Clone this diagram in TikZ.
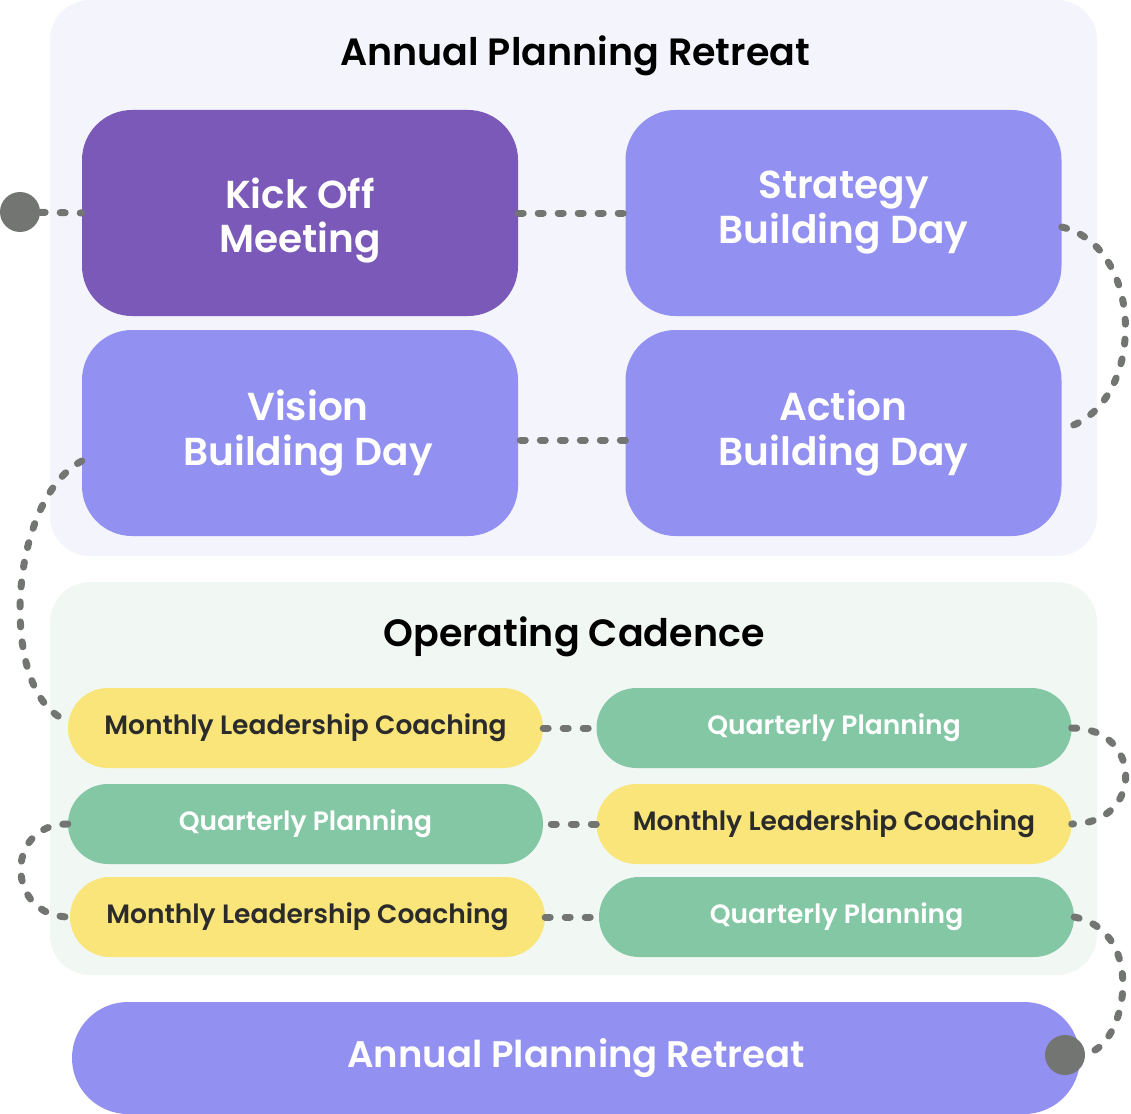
\documentclass[tikz,border=0pt]{standalone}
\usepackage{fontspec}
\setmainfont{Poppins}[BoldFont={Poppins SemiBold}]
\usepackage{xcolor}
\definecolor{kickpurple}{HTML}{7B59B9}
\definecolor{daylilac}{HTML}{9290F0}
\definecolor{coachyellow}{HTML}{F9E57A}
\definecolor{plangreen}{HTML}{84C7A5}
\definecolor{retreatbg}{HTML}{F4F4FC}
\definecolor{cadencebg}{HTML}{F1F8F4}
\definecolor{linkgray}{HTML}{737573}
\definecolor{inkdark}{HTML}{2B2B2B}
\tikzstyle{section-box} = [rectangle, rounded corners=40pt, draw=none]
\tikzstyle{section-title} = [text=black, font=\fontsize{38}{44}\selectfont\bfseries]
\tikzstyle{day-box} = [rectangle, rounded corners=50pt, 
    minimum width=436pt, minimum height=206pt, 
    text=white, align=center, font=\fontsize{39}{45}\selectfont\bfseries]
\tikzstyle{pill} = [rectangle, rounded corners=40pt, 
    minimum width=475pt, minimum height=80pt, 
    font=\fontsize{26.5}{30}\selectfont\bfseries]
\tikzstyle{coach-pill} = [pill, fill=coachyellow, text=inkdark]
\tikzstyle{plan-pill} = [pill, fill=plangreen, text=white]
\tikzstyle{link} = [draw=linkgray, line width=7pt, line cap=round, 
    dash pattern=on 5pt off 15pt]
\tikzstyle{end-dot} = [circle, fill=linkgray, minimum size=40pt, inner sep=0pt]

\begin{document}
\begin{tikzpicture}[x=1pt, y=-1pt]
\useasboundingbox (0,0) rectangle (1131,1113);
\node [section-box, fill=retreatbg, minimum width=1047pt, minimum height=556pt] (retreat) at (573.5,278) {};
\node [section-box, fill=cadencebg, minimum width=1047pt, minimum height=393pt] (cadence) at (573.5,778.5) {};
\node [section-title] (retreat-title) at (575,56) {Annual Planning Retreat};
\node [section-title] (cadence-title) at (574,637) {Operating Cadence};

\node [day-box, fill=kickpurple] (kickoff) at (300,213) {\raisebox{-8pt}[\height][\depth]{\begin{tabular}{@{}c@{}}Kick Off\\[-1pt]Meeting\end{tabular}}};
\node [day-box, fill=daylilac] (strategy) at (843.5,213) {Strategy\\Building Day};
\node [day-box, fill=daylilac] (vision) at (300,433) {\hspace*{16pt}Vision\\\hspace*{16pt}Building Day};
\node [day-box, fill=daylilac] (action) at (843.5,433) {Action\\Building Day};

\node [coach-pill] (coach1) at (305.5,728) {Monthly Leadership Coaching};
\node [plan-pill] (plan1) at (834,728) {Quarterly Planning};
\node [plan-pill] (plan2) at (305.5,824) {Quarterly Planning};
\node [coach-pill] (coach2) at (834,824) {Monthly Leadership Coaching};
\node [coach-pill] (coach3) at (307.5,917) {Monthly Leadership Coaching};
\node [plan-pill] (plan3) at (836.5,917) {Quarterly Planning};

\node [rectangle, rounded corners=56pt, fill=daylilac, minimum width=1008pt, minimum height=112pt, 
    text=white, font=\fontsize{37}{42}\selectfont\bfseries] (final) at (576,1058) {Annual Planning Retreat};

\node [end-dot] (start) at (20,212) {};
\node [end-dot] (finish) at (1065,1055) {};

\draw [link] (start) -- (kickoff.west);
\draw [link] (kickoff.east) -- (strategy.west);
\draw [link] ([yshift=-14pt]strategy.east) .. controls +(85,20) and +(85,-20) .. ([yshift=4pt]action.east);
\draw [link] ([yshift=-7pt]action.west) -- ([yshift=-7pt]vision.east);
\draw [link] ([yshift=-28pt]vision.west) .. controls +(-75,40) and +(-70,-25) .. ([yshift=7pt]coach1.west);
\draw [link] (coach1.east) -- (plan1.west);
\draw [link] (plan1.east) .. controls +(72,0) and +(72,0) .. (coach2.east);
\draw [link] (coach2.west) -- (plan2.east);
\draw [link] (plan2.west) .. controls +(-64,0) and +(-64,0) .. (coach3.west);
\draw [link] (coach3.east) -- (plan3.west);
\draw [link] (plan3.east) .. controls +(75,15) and +(60,-5) .. (finish);
\end{tikzpicture}
\end{document}
